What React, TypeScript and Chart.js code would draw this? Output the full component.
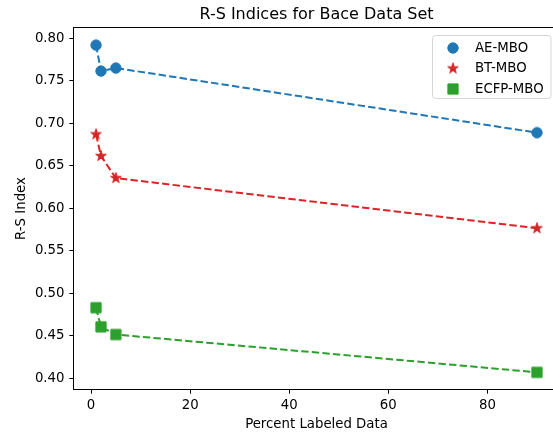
import React, { useEffect, useRef } from 'react';
import { Chart, registerables } from 'chart.js';

Chart.register(...registerables);

const percentLabeled = [1, 2, 5, 90];
const aeMbo = [0.792, 0.7615, 0.765, 0.689];
const btMbo = [0.687, 0.6615, 0.6355, 0.5765];
const ecfpMbo = [0.483, 0.4605, 0.4515, 0.407];
const seriesNames = ['AE-MBO', 'BT-MBO', 'ECFP-MBO'];
const seriesColors = ['#1f77b4', '#d62728', '#2ca02c'];
const seriesShapes = ['circle', 'star', 'square'];
const titleText = 'R-S Indices for Bace Data Set';
const xLabel = 'Percent Labeled Data';
const yLabel = 'R-S Index';

const FONT = 'DejaVu Sans';
const FS = 13.3;

function makeMarker(shape: string, color: string): HTMLCanvasElement {
  const c = document.createElement('canvas');
  c.width = 16;
  c.height = 16;
  const ctx = c.getContext('2d')!;
  ctx.translate(8, 8);
  ctx.fillStyle = color;
  ctx.strokeStyle = color;
  ctx.lineWidth = 1;
  ctx.lineJoin = 'round';
  ctx.beginPath();
  if (shape === 'circle') {
    ctx.arc(0, 0, 5.2, 0, Math.PI * 2);
  } else if (shape === 'square') {
    ctx.rect(-5.1, -5.1, 10.2, 10.2);
  } else {
    const ro = 5.6;
    const ri = ro * 0.381966;
    for (let i = 0; i < 10; i++) {
      const r = i % 2 === 0 ? ro : ri;
      const a = -Math.PI / 2 + (i * Math.PI) / 5;
      const px = r * Math.cos(a);
      const py = r * Math.sin(a);
      if (i === 0) ctx.moveTo(px, py);
      else ctx.lineTo(px, py);
    }
    ctx.closePath();
  }
  ctx.fill();
  ctx.stroke();
  return c;
}

export default function App() {
  const ref = useRef<HTMLCanvasElement>(null);

  useEffect(() => {
    const canvas = ref.current!;
    const markers = seriesShapes.map((s, i) => makeMarker(s, seriesColors[i]));
    const values = [aeMbo, btMbo, ecfpMbo];

    const framePlugin = {
      id: 'frame',
      afterDatasetsDraw(chart: any) {
        const { ctx, chartArea } = chart;
        ctx.save();
        ctx.strokeStyle = '#000';
        ctx.lineWidth = 1;
        ctx.strokeRect(
          Math.round(chartArea.left) - 0.5,
          Math.round(chartArea.top) - 0.5,
          Math.round(chartArea.right - chartArea.left) + 1,
          Math.round(chartArea.bottom - chartArea.top) + 1
        );
        ctx.restore();
      },
    };

    const legendPlugin = {
      id: 'mplLegend',
      afterDraw(chart: any) {
        const { ctx } = chart;
        ctx.save();
        const x = 432.5, y = 35.5, w = 118.5, h = 63, r = 3;
        ctx.beginPath();
        ctx.moveTo(x + r, y);
        ctx.lineTo(x + w - r, y);
        ctx.arcTo(x + w, y, x + w, y + r, r);
        ctx.lineTo(x + w, y + h - r);
        ctx.arcTo(x + w, y + h, x + w - r, y + h, r);
        ctx.lineTo(x + r, y + h);
        ctx.arcTo(x, y + h, x, y + h - r, r);
        ctx.lineTo(x, y + r);
        ctx.arcTo(x, y, x + r, y, r);
        ctx.closePath();
        ctx.fillStyle = 'rgba(255,255,255,0.8)';
        ctx.fill();
        ctx.strokeStyle = '#d5d5d5';
        ctx.lineWidth = 1;
        ctx.stroke();
        ctx.font = `${FS}px "${FONT}"`;
        ctx.fillStyle = '#000';
        ctx.textBaseline = 'middle';
        ctx.textAlign = 'left';
        seriesNames.forEach((name, i) => {
          const cy = 48 + i * 20.5;
          ctx.drawImage(markers[i], 453 - 8, cy - 8);
          ctx.fillText(name, 475, cy + 0.5);
        });
        ctx.restore();
      },
    };

    const tickFont = { family: FONT, size: FS };

    const chart = new Chart(canvas, {
      type: 'line',
      data: {
        datasets: seriesNames.map((name, i) => ({
          label: name,
          data: percentLabeled.map((p, j) => ({ x: p, y: values[i][j] })),
          borderColor: seriesColors[i],
          backgroundColor: seriesColors[i],
          borderWidth: 2,
          borderDash: [7.4, 3.2],
          pointStyle: markers[i] as any,
          pointRadius: 5,
          tension: 0,
          fill: false,
        })),
      },
      options: {
        animation: false,
        responsive: false,
        layout: { padding: { left: 0, top: 0, right: 16, bottom: 0 } },
        plugins: {
          legend: { display: false },
          tooltip: { enabled: false },
          title: {
            display: true,
            text: titleText,
            fullSize: false,
            color: '#000',
            font: { family: FONT, size: 16, weight: 'normal' },
            padding: { top: 5.6, bottom: 3.2 },
          },
        },
        scales: {
          x: {
            type: 'linear',
            min: -3.45,
            max: 94.45,
            border: { display: false },
            grid: {
              display: true,
              drawOnChartArea: false,
              drawTicks: true,
              tickLength: 4.7,
              tickColor: '#000',
              tickWidth: 1,
            },
            ticks: {
              stepSize: 20,
              includeBounds: false,
              padding: 4.3,
              color: '#000',
              font: tickFont,
              maxRotation: 0,
              callback: (v: any) => String(Math.round(Number(v))),
            },
            title: {
              display: true,
              text: xLabel,
              color: '#000',
              font: tickFont,
              padding: { top: 0, bottom: 2.6 },
            },
            afterFit: (s: any) => {
              s.height = 46;
            },
          },
          y: {
            type: 'linear',
            min: 0.3874,
            max: 0.8121,
            border: { display: false },
            grid: {
              display: true,
              drawOnChartArea: false,
              drawTicks: true,
              tickLength: 4.7,
              tickColor: '#000',
              tickWidth: 1,
            },
            ticks: {
              stepSize: 0.05,
              includeBounds: false,
              padding: 4.8,
              color: '#000',
              font: tickFont,
              callback: (v: any) => Number(v).toFixed(2),
            },
            title: {
              display: true,
              text: yLabel,
              color: '#000',
              font: tickFont,
              padding: { top: 14, bottom: 0 },
            },
            afterFit: (s: any) => {
              s.width = 74;
            },
          },
        },
      },
      plugins: [framePlugin, legendPlugin],
    });

    return () => chart.destroy();
  }, []);

  return (
    <div
      style={{
        position: 'fixed',
        left: 0,
        top: 0,
        width: 553,
        height: 435,
        overflow: 'hidden',
        background: '#fff',
      }}
    >
      <canvas ref={ref} width={575} height={435} style={{ width: 575, height: 435, display: 'block' }} />
    </div>
  );
}
